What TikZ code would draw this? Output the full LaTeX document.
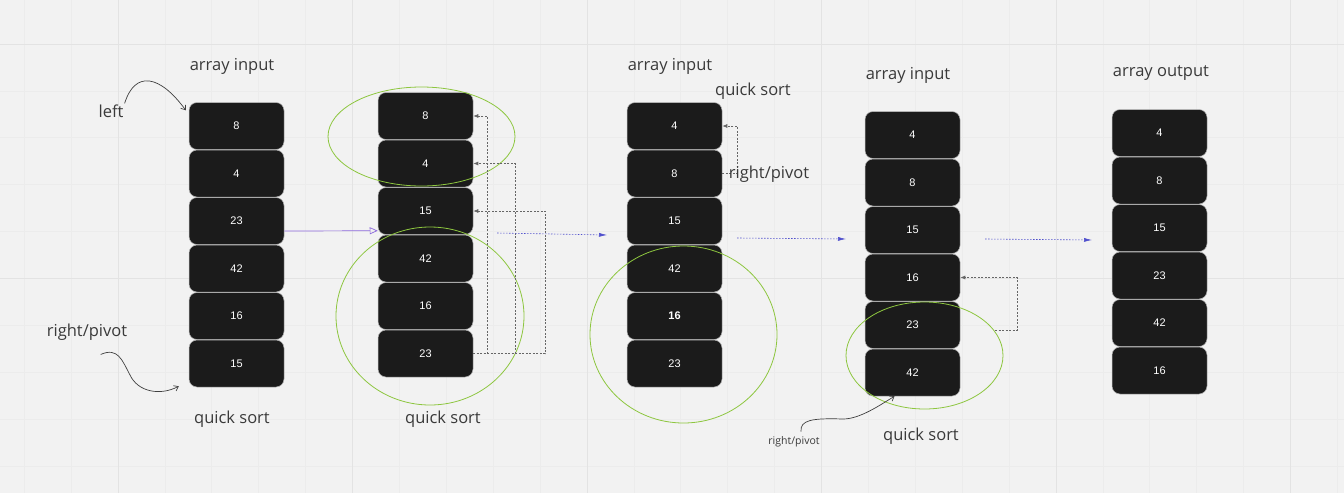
\documentclass[tikz,border=0pt]{standalone}
\usepackage{fontspec}
\setmainfont{Open Sans}
\newfontfamily\cellfont{Liberation Sans}
\usetikzlibrary{arrows.meta}
\definecolor{board}{RGB}{242,242,242}
\definecolor{gridmin}{RGB}{236,236,236}
\definecolor{gridmaj}{RGB}{227,227,227}
\definecolor{cellfill}{RGB}{27,27,27}
\definecolor{cellline}{RGB}{185,185,185}
\definecolor{ring}{RGB}{141,198,63}
\definecolor{flowblue}{RGB}{80,80,205}
\definecolor{movepurple}{RGB}{140,105,220}
\definecolor{ink}{RGB}{58,58,58}

\begin{document}
\begin{tikzpicture}[x=1pt,y=-1pt,
	cell/.style={draw=cellline,line width=0.5pt,fill=cellfill,rounded corners=8pt,
	  minimum width=95pt,minimum height=47pt,inner sep=0pt,text=white,
	  font=\cellfont\fontsize{11}{13}\selectfont},
	note/.style={text=ink,inner sep=1pt,font=\fontsize{16.5}{19}\selectfont},
	smallnote/.style={text=ink,inner sep=1pt,font=\fontsize{10.5}{12}\selectfont},
	ringline/.style={draw=ring,line width=0.8pt},
	link/.style={draw=black!60,line width=0.7pt,dash pattern=on 2pt off 1.5pt,
	  -{Latex[length=5pt,width=4pt]}},
	flow/.style={draw=flowblue,line width=0.6pt,dash pattern=on 1.5pt off 1.5pt,
	  -{Latex[length=8pt,width=4pt]}},
	move/.style={draw=movepurple,line width=0.7pt,-{Triangle[open,length=8pt,width=7pt]}},
	hand/.style={draw=black!75,line width=0.7pt,-{Straight Barb[length=4pt,width=6pt]}}]
	   % board and grid
	   \useasboundingbox (0,0) rectangle (1344,493);
	   \fill [board] (0,0) rectangle (1344,493);
	   \foreach \k in {-2,...,26}
	     \draw [gridmin,line width=0.8pt] ({118+46.9*\k},0) -- ({118+46.9*\k},493);
	   \foreach \k in {-1,...,10}
	     \draw [gridmin,line width=0.8pt] (0,{44+46.9*\k}) -- (1344,{44+46.9*\k});
	   \foreach \k in {0,...,5}
	     \draw [gridmaj,line width=1pt] ({118+234.5*\k},0) -- ({118+234.5*\k},493);
	   \foreach \k in {0,1}
	     \draw [gridmaj,line width=1pt] (0,{44+234.5*\k}) -- (1344,{44+234.5*\k});
	   \begin{scope}[xshift=236.5pt]
	   \foreach \v [count=\i] in {8,4,23,42,16,15} {
	     \node (a\i) at (0,{126+47.5*(\i-1)}) [cell] {\v};
	   }
	   \node (ain1) at (-4.5,66) [note] {array input};
	   \node (qs1) at (-4.5,419) [note] {quick sort};
	   \node (lleft) at (-125.5,111) [note] {left};
	   \node (lrp1) at (-149.5,332) [note] {right/pivot};
	   \end{scope}
	   \begin{scope}[xshift=425.5pt]
	   \foreach \v [count=\i] in {8,4,15,42,16,23} {
	     \node (b\i) at (0,{116+47.5*(\i-1)}) [cell] {\v};
	   }
	   \node (qs2) at (17.5,419) [note] {quick sort};
	   \draw [ringline] (-4,136.5) ellipse [x radius=93.5,y radius=49.5];
	   \draw [ringline] (4.5,316) ellipse [x radius=94,y radius=89];
	   \end{scope}
	   \begin{scope}[xshift=674.5pt]
	   \foreach \v [count=\i] in {4,8,15,42,\textbf{16},23} {
	     \node (c\i) at (0,{126+47.5*(\i-1)}) [cell] {\v};
	   }
	   \node (ain3) at (-4.5,66) [note] {array input};
	   \node (qs3) at (78.5,91) [note] {quick sort};
	   \draw [ringline] (9,334.5) ellipse [x radius=93.5,y radius=88.5];
	   \end{scope}
	   \begin{scope}[xshift=912.5pt]
	   \foreach \v [count=\i] in {4,8,15,16,23,42} {
	     \node (d\i) at (0,{135+47.5*(\i-1)}) [cell] {\v};
	   }
	   \node (ain4) at (-4.5,75) [note] {array input};
	   \node (qs4) at (8.5,436) [note] {quick sort};
	   \node (lrp4) at (-118.5,442) [smallnote] {right/pivot};
	   \draw [ringline] (12,355.5) ellipse [x radius=78.5,y radius=53.5];
	   \end{scope}
	   \begin{scope}[xshift=1159.5pt]
	   \foreach \v [count=\i] in {4,8,15,23,42,16} {
	     \node (e\i) at (0,{133+47.5*(\i-1)}) [cell] {\v};
	   }
	   \node (aout) at (1.5,73) [note] {array output};
	   \end{scope}
	   % connectors
	   \draw [move] ([yshift=-10pt]a3.east) -- ([yshift=4pt]b3.south west);
	   \draw [link] (b6.east) -- ++(14,0) |- (b1.east);
	   \draw [link] (b6.east) -- ++(42,0) |- (b2.east);
	   \draw [link] (b6.east) -- ++(72,0) |- (b3.east);
	   \draw [link] (c2.east) -- ++(15,0) |- (c1.east);
	   \coordinate (d5r) at (995,330);
	   \draw [link] (d5r) -- ++(22,0) |- (d4.east);
	   \node (lrp3) at (769,174) [note] {right/pivot};
	   \coordinate (s1) at (497,233);
	   \coordinate (t1) at (607,235);
	   \coordinate (s2) at (737,238);
	   \coordinate (t2) at (846,239);
	   \coordinate (s3) at (985,239);
	   \coordinate (t3) at (1092,240);
	   \draw [flow] (s1) -- (t1);
	   \draw [flow] (s2) -- (t2);
	   \draw [flow] (s3) -- (t3);
	   \draw [hand] (lleft.north east) .. controls (135,70) and (160,75)
	     .. ([xshift=-3pt,yshift=-8pt]a1.north west);
	   \draw [hand] ([xshift=55pt,yshift=-13pt]lrp1.south west) .. controls (118,347) and (122,360)
	     .. (130,375) .. controls (138,392) and (160,396)
	     .. ([xshift=-10pt,yshift=1pt]a6.south west);
	   \draw [hand] ([xshift=7pt,yshift=4pt]lrp4.north) .. controls (800,420) and (812,418)
	     .. (843,419) .. controls (860,419) and (880,405)
	     .. ([xshift=-18pt]d6.south);
\end{tikzpicture}
\end{document}
